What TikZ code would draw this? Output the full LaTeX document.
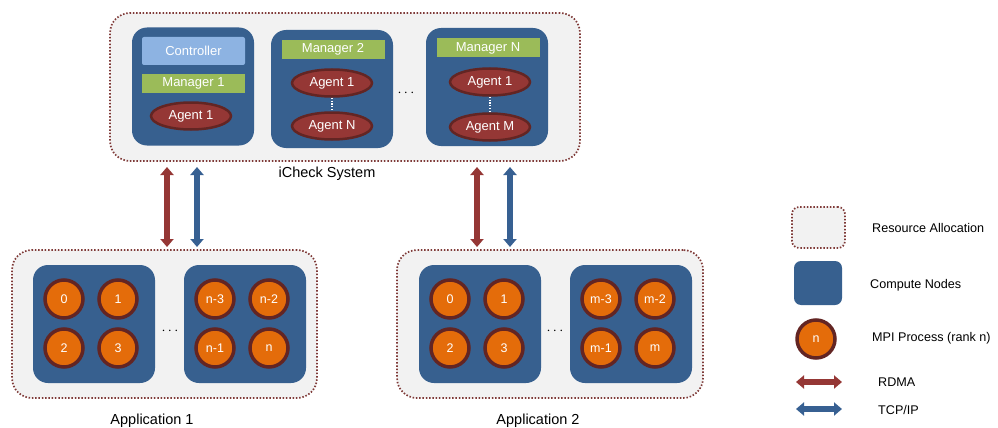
\documentclass[tikz,border=0pt]{standalone}
\usepackage{fontspec}
\setmainfont{Liberation Sans}
\usetikzlibrary{arrows.meta,positioning,shapes.geometric}

\definecolor{allocgrey}{HTML}{F2F2F2}
\definecolor{allocred}{HTML}{7F3A38}
\definecolor{nodeblue}{HTML}{37608F}
\definecolor{ctrlblue}{HTML}{8DB3E2}
\definecolor{mgrgreen}{HTML}{9BBB59}
\definecolor{agentred}{HTML}{953735}
\definecolor{darkbrown}{HTML}{632523}
\definecolor{procorange}{HTML}{E46C0A}
\definecolor{tcpblue}{HTML}{376092}

\begin{document}
\begin{tikzpicture}[
    x=1pt, y=-1pt,
    every node/.style={inner sep=0pt, font=\fontsize{13}{15}\selectfont},
    alloc/.style={draw=allocred, fill=allocgrey, line width=1.7pt,
        dash pattern=on 1.5pt off 1.8pt, rounded corners=20pt},
    compute/.style={fill=nodeblue, rounded corners=15pt,
        minimum width=122pt, minimum height=118pt},
    ctrl/.style={fill=ctrlblue, rounded corners=2pt, text=white,
        minimum width=103pt, minimum height=28pt},
    mgr/.style={fill=mgrgreen, text=white,
        minimum width=103pt, minimum height=19pt},
    agent/.style={ellipse, fill=agentred, draw=darkbrown, line width=2.5pt,
        text=white, minimum width=80pt, minimum height=27pt},
    proc/.style={circle, fill=procorange, draw=darkbrown, line width=3.5pt,
        text=white, minimum size=38pt, font=\fontsize{12.5}{14}\selectfont},
    label/.style={font=\fontsize{14.5}{17}\selectfont},
    legtext/.style={anchor=west, font=\fontsize{12.6}{15}\selectfont},
    rdma/.style={draw=agentred, line width=5.5pt,
        {Triangle[width=13pt,length=8pt]}-{Triangle[width=13pt,length=8pt]}},
    tcp/.style={draw=tcpblue, line width=5.5pt,
        {Triangle[width=13pt,length=8pt]}-{Triangle[width=13pt,length=8pt]}},
    vdots/.style={draw=white, line width=1.2pt, dash pattern=on 1.2pt off 1.6pt}
]
    \useasboundingbox (0,0) rectangle (998,428);

    % iCheck system
    \node[alloc, minimum width=470pt, minimum height=148pt] (sys) at (345,87) {};
    \node[label] (syslabel) at (327,174) {iCheck System};

    \node[compute] (cn1) at (193,86.5) {};
    \node[ctrl] (ctrl) at (193.5,51) {Controller};
    \node[mgr] (mgr1) at (193.5,83.5) {Manager 1};
    \node[agent] (ag11) at (191,116) {Agent 1};

    \node[compute] (cn2) at (332,89) {};
    \node[mgr] (mgr2) at (333,49.5) {Manager 2};
    \node[agent] (ag21) at (332,83) {Agent 1};
    \node[agent] (ag2n) at (332,126) {Agent N};
    \draw[vdots] (ag21) -- (ag2n);

    \node (sysdots) at (406,93) {\fontsize{14}{14}\selectfont$\cdots$};

    \node[compute] (cn3) at (487,87) {};
    \node[mgr] (mgrn) at (488,48) {Manager N};
    \node[agent] (ag31) at (490,82) {Agent 1};
    \node[agent] (ag3m) at (490,127) {Agent M};
    \draw[vdots] (ag31) -- (ag3m);

    % application 1
    \node[alloc, minimum width=305pt, minimum height=148pt] (app1) at (164.5,324) {};
    \node[label] (app1label) at (152,421) {Application 1};
    \node[compute] (a1n1) at (94,324) {};
    \node[compute] (a1n2) at (245,324) {};
    \node[proc] (p10) at (64,299) {0};
    \node[proc] (p11) at (118,299) {1};
    \node[proc] (p12) at (64,348) {2};
    \node[proc] (p13) at (118,348) {3};
    \node[proc] (p1n3) at (215,299) {n-3};
    \node[proc] (p1n2) at (269,299) {n-2};
    \node[proc] (p1n1) at (215,348) {n-1};
    \node[proc] (p1n) at (269,348) {n};
    \node (app1dots) at (170,331) {\fontsize{14}{14}\selectfont$\cdots$};

    % application 2
    \node[alloc, minimum width=306pt, minimum height=148pt] (app2) at (550,324) {};
    \node[label] (app2label) at (538,421) {Application 2};
    \node[compute] (a2n1) at (480,324) {};
    \node[compute] (a2n2) at (631,324) {};
    \node[proc] (p20) at (450,299) {0};
    \node[proc] (p21) at (504,299) {1};
    \node[proc] (p22) at (450,348) {2};
    \node[proc] (p23) at (504,348) {3};
    \node[proc] (p2m3) at (601,299) {m-3};
    \node[proc] (p2m2) at (655,299) {m-2};
    \node[proc] (p2m1) at (601,348) {m-1};
    \node[proc] (p2m) at (655,348) {m};
    \node (app2dots) at (555,331) {\fontsize{14}{14}\selectfont$\cdots$};

    % links between iCheck and the applications
    \coordinate (r1top) at (167,167);
    \coordinate (r1bot) at (167,247);
    \coordinate (t1top) at (197,167);
    \coordinate (t1bot) at (197,247);
    \coordinate (r2top) at (477,167);
    \coordinate (r2bot) at (477,247);
    \coordinate (t2top) at (510,167);
    \coordinate (t2bot) at (510,247);
    \draw[rdma] (r1top) -- (r1bot);
    \draw[tcp] (t1top) -- (t1bot);
    \draw[rdma] (r2top) -- (r2bot);
    \draw[tcp] (t2top) -- (t2bot);

    % legend
    \node[alloc, rounded corners=7pt, minimum width=53pt, minimum height=41pt] (legalloc) at (818.5,227.5) {};
    \node[legtext] (legalloctext) at (872,228) {Resource Allocation};
    \node[compute, rounded corners=7pt, minimum width=48pt, minimum height=44pt] (legcn) at (818,283) {};
    \node[legtext] (legcntext) at (870,285) {Compute Nodes};
    \node[proc] (legproc) at (816,339) {n};
    \node[legtext] (legproctext) at (872,338) {MPI Process (rank n)};
    \coordinate (legrl) at (796,382);
    \coordinate (legrr) at (842,382);
    \draw[rdma] (legrl) -- (legrr);
    \node[legtext] (legrdma) at (878,382) {RDMA};
    \coordinate (legtl) at (796,409);
    \coordinate (legtr) at (842,409);
    \draw[tcp] (legtl) -- (legtr);
    \node[legtext] (legtcp) at (878,410) {TCP/IP};
\end{tikzpicture}
\end{document}
